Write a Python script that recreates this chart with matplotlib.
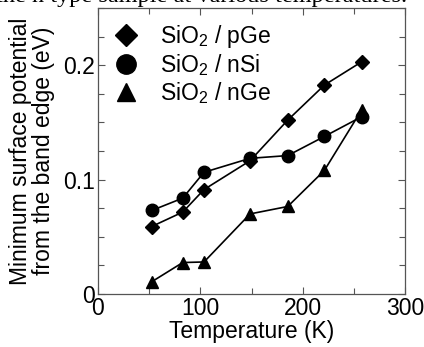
import matplotlib
matplotlib.use("Agg")
import matplotlib.pyplot as plt
from matplotlib.ticker import MultipleLocator

plt.rcParams['font.family'] = ['Liberation Sans', 'DejaVu Sans']
plt.rcParams['mathtext.fontset'] = 'custom'
plt.rcParams['mathtext.rm'] = 'Liberation Sans'
plt.rcParams['mathtext.it'] = 'Liberation Sans'

temperature = [52.5, 82.8, 103.6, 148.6, 185.4, 221.2, 257.7]
pGe = [0.059, 0.0716, 0.0913, 0.1165, 0.152, 0.1826, 0.203]
nSi = [0.073, 0.0838, 0.1064, 0.1186, 0.121, 0.1377, 0.155]
nGe = [0.0107, 0.0275, 0.028, 0.070, 0.0765, 0.108, 0.161]
labels = ["SiO$_2$ / pGe", "SiO$_2$ / nSi", "SiO$_2$ / nGe"]

FS = 16.5
fig = plt.figure(figsize=(4.24, 3.47), dpi=100)
ax = fig.add_axes([98/424, 1-294/347, (405-98)/424, (294-8)/347])

ax.plot(temperature, pGe, color='black', lw=1.2, marker='D', ms=7, label=labels[0])
ax.plot(temperature, nSi, color='black', lw=1.2, marker='o', ms=9, label=labels[1])
ax.plot(temperature, nGe, color='black', lw=1.2, marker='^', ms=8.5, label=labels[2])

ax.set_xlim(0, 300)
ax.set_ylim(0, 0.25)
ax.xaxis.set_minor_locator(MultipleLocator(50))
ax.yaxis.set_minor_locator(MultipleLocator(0.025))
ax.set_xticks([0, 100, 200, 300])
ax.set_xticklabels(['0', '100', '200', '300'])
ax.set_yticks([0, 0.1, 0.2])
ax.set_yticklabels(['0', '0.1', '0.2'])
ax.tick_params(which='both', direction='in', top=True, right=True, color='#555555', width=0.8)
ax.tick_params(which='major', length=5, labelsize=FS, pad=2)
ax.tick_params(which='minor', length=4)
for s in ax.spines.values():
    s.set_color('#555555'); s.set_linewidth(0.9)

ax.set_xlabel('Temperature (K)', fontsize=FS, labelpad=0)
ax.set_ylabel('Minimum surface potential\nfrom the band edge (eV)', fontsize=FS, labelpad=6, linespacing=1.0)

leg = ax.legend(loc='upper left', frameon=False, fontsize=FS, handlelength=0, handletextpad=1.5,
                markerscale=1.55, numpoints=1, borderaxespad=0.0, labelspacing=0.1,
                bbox_to_anchor=(0.06, 0.98))

fig.text(-0.01, 0.995, 'the n type sample at various temperatures.', fontsize=17.5,
         family='Liberation Serif', va='baseline', ha='left')

fig.savefig('out.png', dpi=100, facecolor='white')
